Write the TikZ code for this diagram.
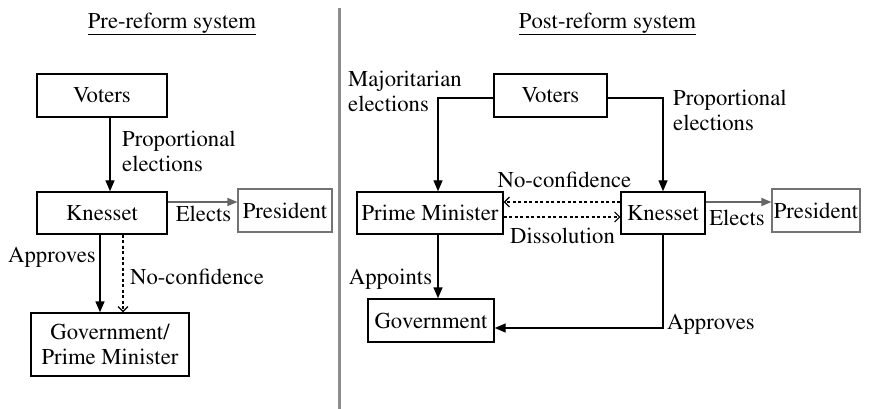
\documentclass[tikz,border=0pt]{standalone}
\usepackage[T1]{fontenc}
\usetikzlibrary{arrows.meta,calc}
\begin{document}
\begin{tikzpicture}[x=1pt,y=-1pt,
  font=\fontfamily{ptm}\fontsize{22.7}{25.5}\selectfont,
  box/.style={draw,line width=1.4pt,inner sep=0pt,align=center},
  graybox/.style={draw=black!55,line width=1.1pt,inner sep=0pt,align=center},
  lbl/.style={inner sep=0pt,align=left},
  link/.style={line width=1.4pt,-{Triangle[length=11pt,width=9pt]}},
  grlink/.style={line width=1.4pt,-{Triangle[length=10pt,width=8pt]},color=black!60},
  dlink/.style={line width=1.1pt,dash pattern=on 3pt off 2.5pt,-{Straight Barb[length=5pt,width=10pt]}}]
\useasboundingbox (0,0) rectangle (876,409);
\fill[white] (0,0) rectangle (876,409);

% divider between the two systems
\draw[black!45,line width=3pt] (339,8) -- (339,409);

% ---- pre-reform system ----
\node (tL) at (172,24) {\underline{Pre-reform system}};
\node[box,minimum width=130pt,minimum height=43pt] (voL) at (102,95.5) {Voters};
\node[box,minimum width=130pt,minimum height=42pt] (knL) at (102,213) {Knesset};
\node[graybox,minimum width=94pt,minimum height=43pt] (prL) at (285,210.5) {President};
\node[box,minimum width=158pt,minimum height=63pt] (goL) at (110,344.5) {Government/\\Prime Minister};

\draw[link] ([xshift=8pt]voL.south) -- ([xshift=8pt]knL.north);
\draw[grlink] ([yshift=11pt]knL.east) -- ([yshift=11pt]knL.east -| prL.west);
\draw[link] ([xshift=-2pt]knL.south) -- ([xshift=-2pt]knL.south |- goL.north);
\draw[dlink] ([xshift=21pt]knL.south) -- ([xshift=21pt]knL.south |- goL.north);

\node[lbl,anchor=west] (peL) at (122,151.5) {Proportional\\elections};
\node[lbl] (elL) at (203.5,214) {Elects};
\node[lbl,anchor=east] (apL) at (96,257) {Approves};
\node[lbl,anchor=west] (ncL) at (130,277) {No-confidence};

% ---- post-reform system ----
\node (tR) at (607.5,24) {\underline{Post-reform system}};
\node[box,minimum width=113pt,minimum height=43pt] (voR) at (550.5,95.5) {Voters};
\node[box,minimum width=146pt,minimum height=42pt] (pmR) at (430,213) {Prime Minister};
\node[box,minimum width=84pt,minimum height=42pt] (knR) at (663,213) {Knesset};
\node[graybox,minimum width=88pt,minimum height=43pt] (prR) at (816,210.5) {President};
\node[box,minimum width=126pt,minimum height=43pt] (goR) at (431,320.5) {Government};

\draw[link] ([yshift=-2.5pt]voR.west) -| ([xshift=8pt]pmR.north);
\draw[link] ([yshift=-2.5pt]voR.east) -| (knR.north);
\draw[dlink] ([yshift=11pt]knR.west) -- ([yshift=11pt]knR.west -| pmR.east);
\draw[dlink] ([yshift=-4pt]pmR.east) -- ([yshift=-4pt]pmR.east -| knR.west);
\draw[grlink] ([yshift=11pt]knR.east) -- ([yshift=11pt]knR.east -| prR.west);
\draw[link] ([xshift=8pt]pmR.south) -- ([xshift=8pt]pmR.south |- goR.north);
\draw[link] (knR.south) |- ([yshift=-7.5pt]goR.east);

\node[lbl,anchor=west] (maR) at (348,91.5) {Majoritarian\\elections};
\node[lbl,anchor=west] (peR) at (673,110.5) {Proportional\\elections};
\node[lbl] (ncR) at (564.5,180) {No-confidence};
\node[lbl] (diR) at (562.5,236) {Dissolution};
\node[lbl] (elR) at (737,218) {Elects};
\node[lbl] (apR) at (390.5,279) {Appoints};
\node[lbl] (aqR) at (711,324) {Approves};
\end{tikzpicture}
\end{document}
